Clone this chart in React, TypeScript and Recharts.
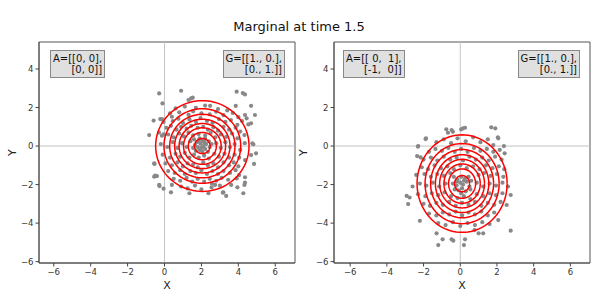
import React from "react";
import {
  ScatterChart,
  Scatter,
  XAxis,
  YAxis,
  ReferenceLine,
  ReferenceArea,
} from "recharts";

const FONT = "DejaVu Sans";
const xTicks = [-6, -4, -2, 0, 2, 4, 6];
const yTicks = [-6, -4, -2, 0, 2, 4];
const xDomainLeft = [-6.8, 7.07];
const xDomainRight = [-6.88, 7.07];
const yDomain = [-6.07, 5.4];

// contour levels of the fitted gaussian, as radii
const levelRadii = [2.53, 2.08, 1.77, 1.5, 1.26, 1.02, 0.76, 0.42];
const leftCenter = [2.05, 0.0];
const rightCenter = [0.1, -1.95];
const leftStretch = [1.0, 0.93];
const rightStretch = [0.97, 1.0];

// samples (A = 0)
const leftPoints: [number, number][] = [
  [-0.29, 2.73], [0.9, 2.87], [3.91, 2.82], [4.24, 2.75], [4.36, 2.68], [-0.11, 2.21],
  [1.3, 2.39], [1.44, 2.47], [1.53, 2.51], [2.47, 2.09], [3.86, 2.08], [4.69, 2.09],
  [-0.59, 1.32], [-0.23, 1.4], [-0.14, 1.4], [0.4, 1.52], [4.36, 1.61], [4.45, 1.44],
  [4.9, 1.61], [4.54, 1.12], [4.69, 1.18], [-0.83, 0.57], [-0.14, 0.54], [-0.05, 0.61],
  [4.33, 0.57], [4.76, 0.14], [4.81, 0.09], [-0.56, -0.9], [4.96, -0.38], [4.85, -0.93],
  [-0.56, -1.59], [-0.41, -1.56], [-0.27, -2.08], [-0.05, -2.21], [0.35, -2.4], [1.35, -2.45],
  [2.38, -2.45], [3.16, -2.42], [3.34, -2.59], [3.95, -2.14], [4.27, -2.45], [4.36, -1.62],
  [4.36, -1.9], [-0.54, -0.93], [-0.5, -1.54], [-0.29, -2.02], [0.4, -2.02], [2.56, -1.94],
  [2.74, -2.02], [3.19, -2.4], [3.61, -2.02], [3.91, -1.68], [4.04, -1.51], [4.33, -2.02],
  [4.69, -0.47], [4.36, -0.73],
  [0.6, 1.95], [1.1, 2.05], [1.7, 1.98], [2.2, 2.1], [2.9, 1.92], [3.4, 1.85],
  [0.3, 1.7], [0.8, 1.75], [1.3, 1.62], [1.55, 1.8], [2.0, 1.7], [2.45, 1.65], [2.8, 1.78],
  [3.2, 1.6], [3.7, 1.72], [4.0, 1.5],
  [-0.05, 1.25], [0.45, 1.3], [0.75, 1.42], [1.0, 1.2], [1.35, 1.38], [1.7, 1.25], [1.95, 1.45],
  [2.3, 1.3], [2.6, 1.2], [2.95, 1.4], [3.3, 1.25], [3.6, 1.35], [3.95, 1.1], [4.2, 1.3],
  [0.1, 0.95], [0.35, 1.05], [0.65, 0.85], [0.9, 1.0], [1.2, 0.9], [1.45, 1.05], [1.8, 0.95],
  [2.1, 1.0], [2.35, 0.85], [2.65, 0.98], [2.9, 0.8], [3.2, 1.0], [3.5, 0.85], [3.85, 0.95], [4.1, 0.75],
  [-0.3, 0.7], [0.2, 0.6], [0.5, 0.45], [0.8, 0.65], [1.05, 0.5], [1.3, 0.7], [1.55, 0.55],
  [1.85, 0.62], [2.2, 0.55], [2.5, 0.68], [2.75, 0.45], [3.05, 0.6], [3.35, 0.48], [3.65, 0.65], [3.95, 0.4],
  [1.6, 0.35], [1.75, 0.2], [1.9, 0.4], [2.05, 0.3], [2.2, 0.38], [2.4, 0.25], [1.65, 0.05],
  [1.8, -0.05], [1.95, 0.12], [2.1, 0.0], [2.25, 0.1], [2.45, -0.05], [1.7, -0.25], [1.9, -0.2],
  [2.05, -0.3], [2.2, -0.15], [2.35, -0.3], [2.55, 0.1], [1.55, -0.1], [2.0, -0.1], [2.15, 0.2], [1.85, 0.25],
  [-0.2, 0.1], [0.15, -0.05], [0.45, 0.2], [0.7, -0.1], [0.95, 0.15], [1.2, -0.05], [1.4, 0.25],
  [2.8, 0.15], [3.05, -0.1], [3.3, 0.2], [3.55, -0.05], [3.8, 0.1], [4.1, -0.2], [4.35, 0.15],
  [-0.1, -0.45], [0.3, -0.6], [0.6, -0.4], [0.85, -0.55], [1.1, -0.35], [1.35, -0.6], [1.6, -0.45],
  [1.85, -0.6], [2.15, -0.5], [2.4, -0.65], [2.7, -0.4], [2.95, -0.55], [3.25, -0.4], [3.5, -0.6],
  [3.8, -0.45], [4.05, -0.6],
  [0.05, -0.9], [0.4, -1.0], [0.7, -0.85], [1.0, -1.05], [1.25, -0.9], [1.55, -0.95], [1.8, -1.1],
  [2.1, -0.85], [2.35, -1.0], [2.65, -0.9], [2.9, -1.1], [3.2, -0.85], [3.5, -1.0], [3.75, -0.85], [4.0, -1.05],
  [0.2, -1.3], [0.55, -1.4], [0.85, -1.25], [1.1, -1.45], [1.4, -1.3], [1.7, -1.4], [2.0, -1.25],
  [2.3, -1.45], [2.6, -1.3], [2.9, -1.45], [3.2, -1.3], [3.55, -1.4], [3.85, -1.25],
  [0.5, -1.7], [0.85, -1.8], [1.2, -1.65], [1.5, -1.85], [1.8, -1.7], [2.15, -1.85], [2.45, -1.7],
  [2.8, -1.8], [3.1, -1.65], [3.45, -1.75],
  [0.9, -2.1], [1.25, -2.2], [1.65, -2.05], [2.0, -2.25], [2.55, -2.15], [3.0, -2.05],
];

// samples (A = rotation)
const rightPoints: [number, number][] = [
  [-0.76, 0.87], [-0.67, 0.69], [-0.4, 0.74], [0.05, 0.87], [0.15, 0.92], [1.69, 0.97],
  [1.91, 0.92], [-1.89, 0.36], [-2.31, -0.03], [2.05, 0.45], [2.38, 0.0], [2.42, -0.38],
  [-2.35, -0.52], [-2.16, -0.59], [-2.92, -2.59], [-2.84, -3.01], [-2.2, -3.88], [-1.29, -4.53],
  [-1.2, -5.14], [-0.96, -4.84], [-0.47, -4.84], [-0.38, -4.91], [0.26, -4.84], [0.2, -5.14],
  [1.0, -4.53], [1.25, -4.53], [2.75, -4.39], [2.75, -2.54], [2.53, -3.06], [2.07, -3.84],
  [-0.47, 0.83], [0.26, 0.95], [2.07, 0.4], [-1.87, 0.4], [-2.29, 0.0], [1.8, 0.05],
  [-2.76, -2.67], [0.78, -4.36],
  [-1.3, 0.2], [-0.9, 0.35], [-0.5, 0.15], [-0.15, 0.4], [0.3, 0.25], [0.7, 0.45], [1.1, 0.2], [1.5, 0.35],
  [-1.7, -0.3], [-1.35, -0.15], [-1.0, -0.25], [-0.65, -0.1], [-0.3, -0.3], [0.05, -0.15], [0.4, -0.3],
  [0.75, -0.1], [1.1, -0.25], [1.45, -0.15], [1.8, -0.3], [2.15, -0.2],
  [-2.0, -0.7], [-1.6, -0.6], [-1.25, -0.75], [-0.9, -0.55], [-0.55, -0.7], [-0.2, -0.6], [0.15, -0.75],
  [0.5, -0.55], [0.85, -0.7], [1.2, -0.6], [1.55, -0.75], [1.9, -0.55], [2.25, -0.7],
  [-2.1, -1.1], [-1.75, -1.2], [-1.4, -1.0], [-1.05, -1.15], [-0.7, -1.05], [-0.35, -1.2], [0.0, -1.0],
  [0.35, -1.15], [0.7, -1.05], [1.05, -1.2], [1.4, -1.0], [1.75, -1.15], [2.1, -1.05], [2.4, -1.2],
  [-2.4, -1.5], [-1.95, -1.45], [-1.6, -1.6], [-1.25, -1.45], [-0.9, -1.55], [-0.55, -1.4], [1.0, -1.5],
  [1.3, -1.4], [1.65, -1.55], [2.0, -1.45], [2.35, -1.6],
  [-0.35, -1.6], [-0.15, -1.75], [0.05, -1.6], [0.25, -1.7], [0.45, -1.6], [0.6, -1.8], [-0.4, -1.95],
  [-0.2, -2.05], [0.0, -1.9], [0.15, -2.0], [0.35, -1.85], [0.5, -2.1], [-0.3, -2.25], [-0.1, -2.3],
  [0.1, -2.2], [0.3, -2.35], [0.55, -2.25], [0.05, -2.45], [-0.2, -1.85], [0.2, -1.8],
  [-2.6, -2.1], [-2.2, -1.95], [-1.85, -2.05], [-1.5, -1.9], [-1.15, -2.1], [-0.8, -1.95], [0.9, -1.9],
  [1.25, -2.1], [1.6, -1.95], [1.95, -2.05], [2.3, -1.9], [2.6, -2.1],
  [-2.3, -2.5], [-1.9, -2.6], [-1.55, -2.45], [-1.2, -2.55], [-0.85, -2.4], [-0.5, -2.6], [-0.15, -2.7],
  [0.2, -2.6], [0.55, -2.75], [0.9, -2.5], [1.25, -2.6], [1.6, -2.45], [1.95, -2.55], [2.3, -2.45],
  [-2.0, -3.0], [-1.65, -3.1], [-1.3, -2.95], [-0.95, -3.05], [-0.6, -2.9], [-0.25, -3.1], [0.1, -2.95],
  [0.45, -3.05], [0.8, -2.9], [1.15, -3.1], [1.5, -2.95], [1.85, -3.05], [2.2, -2.9],
  [-1.7, -3.5], [-1.3, -3.6], [-0.95, -3.45], [-0.6, -3.55], [-0.25, -3.4], [0.1, -3.6], [0.45, -3.45],
  [0.8, -3.55], [1.15, -3.4], [1.5, -3.6], [1.85, -3.45],
  [-1.2, -4.0], [-0.8, -4.1], [-0.4, -3.95], [0.0, -4.15], [0.4, -4.0], [0.8, -4.1], [1.2, -3.95], [1.6, -4.05],
];

function ring(center: number[], stretch: number[], r: number) {
  const pts = [];
  for (let i = 0; i <= 96; i++) {
    const a = (i / 96) * Math.PI * 2;
    pts.push({
      x: center[0] + r * stretch[0] * Math.cos(a),
      y: center[1] + r * stretch[1] * Math.sin(a),
    });
  }
  return pts;
}

const fmt = (v: number) => String(v).replace("-", "\u2212");
const dot = (p: any) => <circle cx={p.cx} cy={p.cy} r={2.1} fill="#888" />;
const noDot = () => <g />;

function Panel({
  points,
  center,
  stretch,
  xDomain,
  yAxisWidth,
  width,
  labelOffset,
}: {
  points: [number, number][];
  center: number[];
  stretch: number[];
  xDomain: number[];
  yAxisWidth: number;
  width: number;
  labelOffset: number;
}) {
  const data = points.map(([x, y]) => ({ x, y }));
  const tickStyle = { fontSize: 8.5, fill: "#333", fontFamily: FONT };
  return (
    <ScatterChart
      width={width}
      height={299}
      margin={{ top: 42, right: 8, left: 0, bottom: 10 }}
    >
      <XAxis
        type="number"
        dataKey="x"
        domain={xDomain}
        ticks={xTicks}
        allowDataOverflow
        tickFormatter={fmt}
        tick={tickStyle}
        tickSize={3.5}
        tickLine={{ stroke: "#444" }}
        axisLine={{ stroke: "#555" }}
        height={26}
        label={{
          value: "X",
          position: "insideBottom",
          offset: 0,
          style: { fontSize: 11, fill: "#222", fontFamily: FONT },
        }}
      />
      <YAxis
        type="number"
        dataKey="y"
        domain={yDomain}
        ticks={yTicks}
        allowDataOverflow
        tickFormatter={fmt}
        tick={tickStyle}
        tickSize={3.5}
        tickLine={{ stroke: "#444" }}
        axisLine={{ stroke: "#555" }}
        width={yAxisWidth}
        label={{
          value: "Y",
          angle: -90,
          position: "insideLeft",
          offset: labelOffset,
          style: { fontSize: 11, fill: "#222", fontFamily: FONT, textAnchor: "middle" },
        }}
      />
      <ReferenceArea
        x1={xDomain[0]}
        x2={xDomain[1]}
        y1={yDomain[0]}
        y2={yDomain[1]}
        fill="none"
        stroke="#555"
        strokeWidth={1}
        ifOverflow="visible"
      />
      <ReferenceLine x={0} stroke="#c4c4c4" strokeWidth={1} />
      <ReferenceLine y={0} stroke="#c4c4c4" strokeWidth={1} />
      <Scatter data={data} shape={dot} isAnimationActive={false} />
      {levelRadii.map((r) => (
        <Scatter
          key={r}
          data={ring(center, stretch, r)}
          line={{ stroke: "#ff0000", strokeWidth: 1.5 }}
          lineType="joint"
          shape={noDot}
          isAnimationActive={false}
        />
      ))}
    </ScatterChart>
  );
}

const boxStyle: React.CSSProperties = {
  position: "absolute",
  top: 50,
  background: "#e0e0e0",
  border: "1px solid #888",
  fontFamily: FONT,
  fontSize: 10,
  lineHeight: "10.5px",
  color: "#111",
  whiteSpace: "pre",
  textAlign: "right",
  padding: "3px 2px 2px 2px",
};

export default function App() {
  return (
    <div
      style={{
        position: "absolute",
        left: 0,
        top: 0,
        width: 598,
        height: 299,
        background: "#fff",
        overflow: "hidden",
      }}
    >
      <div
        style={{
          position: "absolute",
          top: 19,
          left: 0,
          width: 598,
          textAlign: "center",
          fontFamily: FONT,
          fontSize: 13,
          color: "#111",
        }}
      >
        Marginal at time 1.5
      </div>
      <div style={{ position: "absolute", left: 0, top: 0 }}>
        <Panel
          points={leftPoints}
          center={leftCenter}
          stretch={leftStretch}
          xDomain={xDomainLeft}
          yAxisWidth={39}
          width={303}
          labelOffset={12}
        />
      </div>
      <div style={{ position: "absolute", left: 296, top: 0 }}>
        <Panel
          points={rightPoints}
          center={rightCenter}
          stretch={rightStretch}
          xDomain={xDomainRight}
          yAxisWidth={38}
          width={302}
          labelOffset={7}
        />
      </div>
      <div style={{ ...boxStyle, left: 50 }}>{"A=[[0, 0],\n[0, 0]]"}</div>
      <div style={{ ...boxStyle, right: 598 - 285 }}>{"G=[[1., 0.],\n[0., 1.]]"}</div>
      <div style={{ ...boxStyle, left: 343 }}>{"A=[[ 0,  1],\n[-1,  0]]"}</div>
      <div style={{ ...boxStyle, right: 598 - 580 }}>{"G=[[1., 0.],\n[0., 1.]]"}</div>
    </div>
  );
}
